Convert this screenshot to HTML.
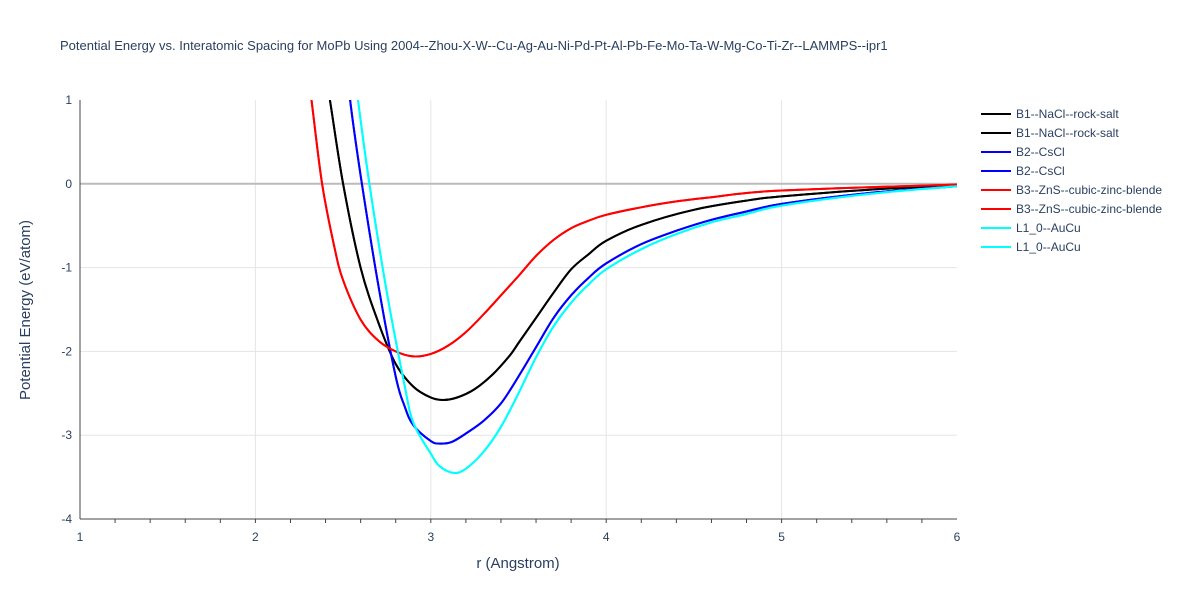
<!DOCTYPE html>
<html><head><meta charset="utf-8"><style>
body{margin:0;background:#fff;font-family:"Liberation Sans",sans-serif;}
</style></head><body>
<svg id="chart" width="1200" height="600" xmlns="http://www.w3.org/2000/svg" font-family="Liberation Sans, sans-serif">
<rect width="1200" height="600" fill="#fff"/>
<text x="60" y="50" font-size="13" fill="#2a3f5f">Potential Energy vs. Interatomic Spacing for MoPb Using 2004--Zhou-X-W--Cu-Ag-Au-Ni-Pd-Pt-Al-Pb-Fe-Mo-Ta-W-Mg-Co-Ti-Zr--LAMMPS--ipr1</text>
<g id="grid"></g><g id="axes"></g>
<defs><clipPath id="clip"><rect x="80" y="100" width="877" height="419"/></clipPath></defs>
<g id="series" clip-path="url(#clip)"></g>
<g id="legend"></g>
<text x="518" y="568" text-anchor="middle" font-size="15" fill="#2a3f5f">r (Angstrom)</text>
<text transform="translate(30,310) rotate(-90)" text-anchor="middle" font-size="15" fill="#2a3f5f">Potential Energy (eV/atom)</text>
</svg>
<script>
const xTicks=[1,2,3,4,5,6];
const yTicks=[1,0,-1,-2,-3,-4];
const seriesNames=["B1--NaCl--rock-salt","B2--CsCl","B3--ZnS--cubic-zinc-blende","L1_0--AuCu"];
const seriesColors=["#000000","#0000ff","#ff0000","#00ffff"];
const rB1=[2.4,2.425,2.5,2.6,2.7,2.8,2.9,3.0,3.07,3.15,3.25,3.35,3.45,3.5,3.6,3.7,3.8,3.9,4.0,4.2,4.5,4.8,5.0,5.5,6.0];
const eB1=[1.3,1,0,-1,-1.65,-2.15,-2.42,-2.55,-2.58,-2.55,-2.45,-2.28,-2.05,-1.9,-1.6,-1.3,-1.02,-0.84,-0.68,-0.49,-0.31,-0.2,-0.15,-0.07,-0.02];
const rB2=[2.5,2.54,2.6,2.7,2.8,2.85,2.9,3.0,3.05,3.12,3.2,3.3,3.4,3.5,3.6,3.7,3.8,3.9,4.0,4.2,4.4,4.6,4.8,5.0,5.5,6.0];
const eB2=[1.8,1,0.1,-1.2,-2.3,-2.65,-2.88,-3.07,-3.1,-3.08,-2.98,-2.83,-2.62,-2.3,-1.95,-1.6,-1.33,-1.12,-0.95,-0.72,-0.56,-0.43,-0.33,-0.24,-0.11,-0.03];
const rB3=[2.28,2.32,2.38,2.45,2.5,2.6,2.7,2.8,2.9,3.0,3.1,3.2,3.3,3.4,3.5,3.6,3.7,3.8,3.9,4.0,4.2,4.4,4.6,4.8,5.0,5.5,6.0];
const eB3=[1.7,1,0,-0.75,-1.15,-1.62,-1.87,-2.0,-2.06,-2.03,-1.93,-1.77,-1.56,-1.33,-1.1,-0.86,-0.67,-0.53,-0.44,-0.37,-0.28,-0.21,-0.16,-0.11,-0.08,-0.04,-0.01];
const rL10=[2.55,2.585,2.65,2.75,2.85,2.9,3.0,3.05,3.13,3.2,3.3,3.4,3.5,3.6,3.7,3.8,3.9,4.0,4.2,4.4,4.6,4.8,5.0,5.5,6.0];
const eL10=[1.6,1,0,-1.3,-2.4,-2.85,-3.22,-3.37,-3.45,-3.4,-3.2,-2.9,-2.5,-2.07,-1.7,-1.42,-1.2,-1.02,-0.78,-0.6,-0.46,-0.36,-0.26,-0.12,-0.03];
const allR=[rB1,rB2,rB3,rL10], allE=[eB1,eB2,eB3,eL10];
const X=v=>80+(v-1)*175.4, Y=v=>100+(1-v)*83.8;
const NS="http://www.w3.org/2000/svg";
function mk(t,a,p){const e=document.createElementNS(NS,t);for(const k in a)e.setAttribute(k,a[k]);p.appendChild(e);return e;}
function smooth(P){let d='M'+P[0][0].toFixed(1)+','+P[0][1].toFixed(1);
 for(let i=0;i<P.length-1;i++){const p0=P[Math.max(i-1,0)],p1=P[i],p2=P[i+1],p3=P[Math.min(i+2,P.length-1)];
  const c1=[p1[0]+(p2[0]-p0[0])/6,p1[1]+(p2[1]-p0[1])/6],c2=[p2[0]-(p3[0]-p1[0])/6,p2[1]-(p3[1]-p1[1])/6];
  d+='C'+c1[0].toFixed(1)+','+c1[1].toFixed(1)+' '+c2[0].toFixed(1)+','+c2[1].toFixed(1)+' '+p2[0].toFixed(1)+','+p2[1].toFixed(1);}
 return d;}
const grid=document.getElementById('grid'),axes=document.getElementById('axes'),ser=document.getElementById('series'),leg=document.getElementById('legend');
xTicks.forEach(t=>{
 if(t>1&&t<6){const g=mk('line',{x1:X(t),x2:X(t),y1:100,y2:519,stroke:'#e5e5e5'},grid);
 
 }
 const l=mk('text',{x:X(t),y:541,'text-anchor':'middle','font-size':12,fill:'#2a3f5f'},axes);l.textContent=t;
 
 
});
for(let m=1.2;m<6;m+=0.2){mk('line',{x1:X(m),x2:X(m),y1:519,y2:523,stroke:'#444'},axes);}
yTicks.forEach(t=>{
 if(t<1&&t>-4){const g=mk('line',{x1:80,x2:957,y1:Y(t),y2:Y(t),stroke:t==0?'#bbb':'#e5e5e5','stroke-width':t==0?2:1},grid);
 
 }
 const l=mk('text',{x:72,y:Y(t)+4,'text-anchor':'end','font-size':12,fill:'#2a3f5f'},axes);l.textContent=t;
 
 
});
const xa=mk('line',{x1:80,x2:957,y1:519,y2:519,stroke:'#444'},axes);


const ya=mk('line',{x1:80,x2:80,y1:100,y2:519,stroke:'#444'},axes);


for(let i=0;i<4;i++){
 const P=allR[i].map((r,j)=>[X(r),Y(allE[i][j])]);
 const d=smooth(P);
 for(let k=0;k<2;k++){
  const p=mk('path',{d:d,fill:'none',stroke:seriesColors[i],'stroke-width':2,'stroke-linejoin':'round'},ser);
  
  
 }
}
for(let k=0;k<8;k++){
 const i=Math.floor(k/2),yy=114+k*19;
 const g=mk('g',{},leg);
 
 
 mk('line',{x1:981,x2:1011,y1:yy,y2:yy,stroke:seriesColors[i],'stroke-width':2},g);
 const t=mk('text',{x:1016,y:yy+4,'font-size':12,fill:'#2a3f5f'},g);t.textContent=seriesNames[i];
}
</script>
</body></html>
